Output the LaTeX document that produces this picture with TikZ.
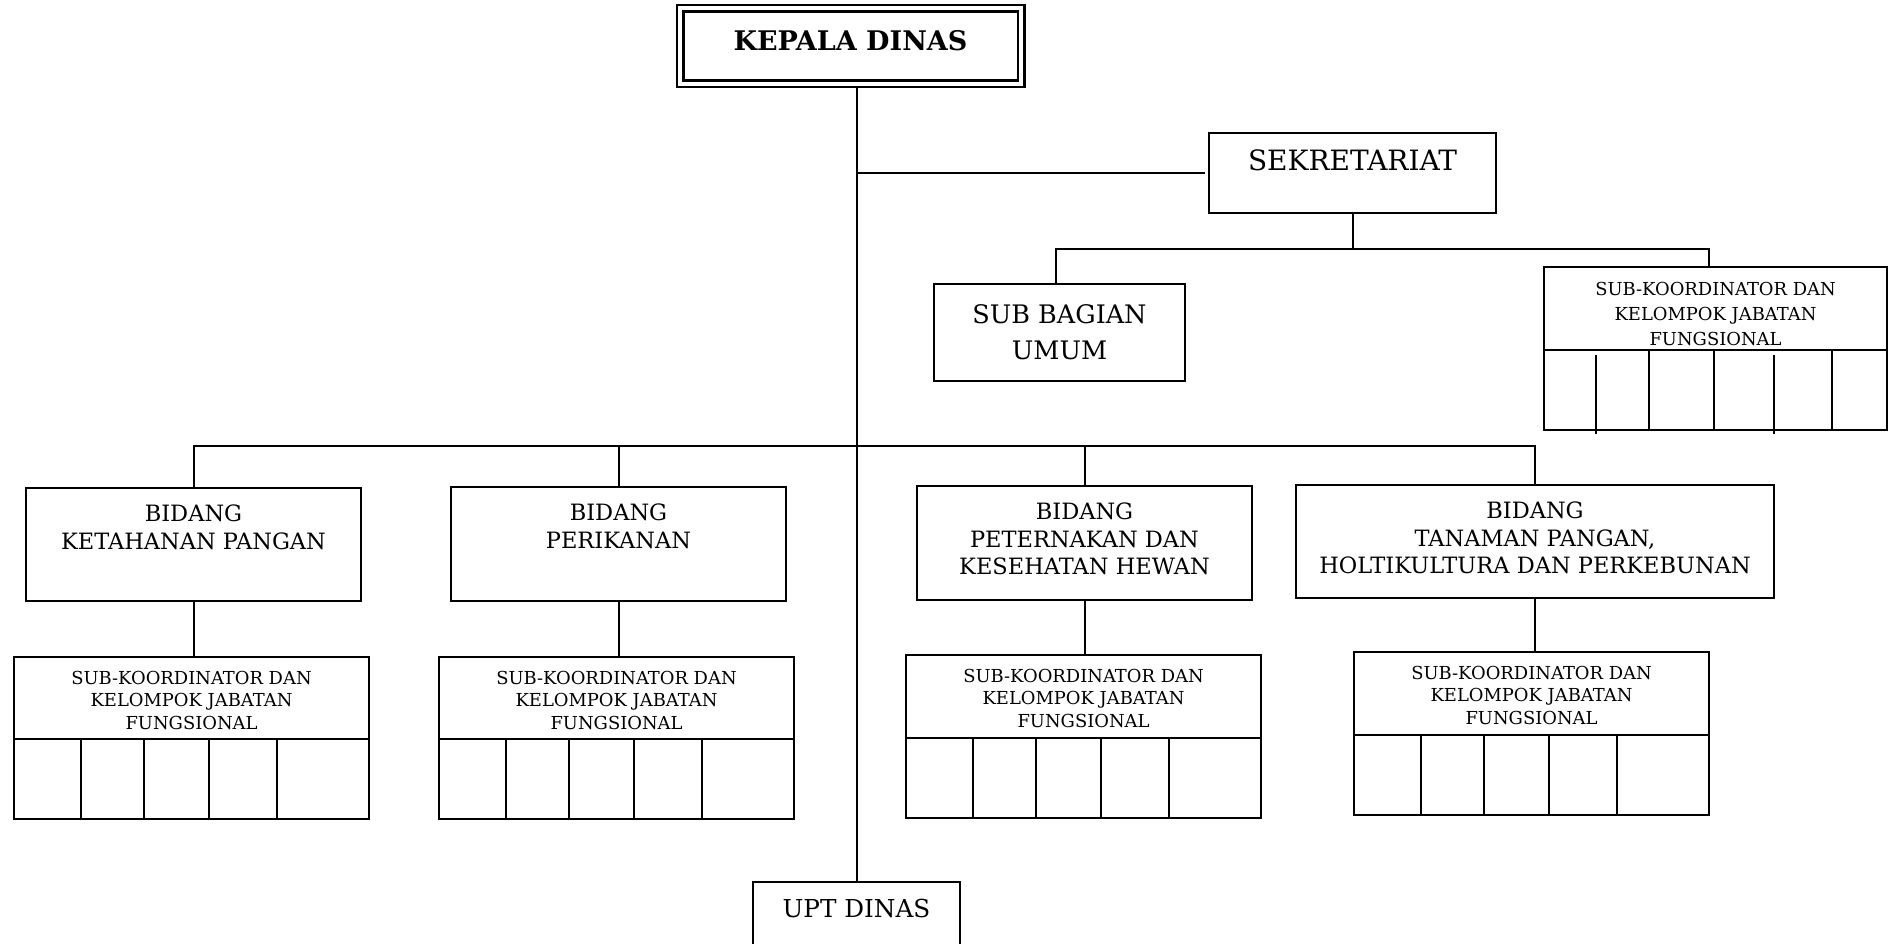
\documentclass[tikz,border=0pt]{standalone}
\usepackage{fontspec}
\setmainfont{DejaVu Serif}
\usetikzlibrary{calc,positioning}
\newcommand\txtbig{\fontsize{22.5}{27.5}\selectfont}
\newcommand\txtsmall{\fontsize{17.9}{22.3}\selectfont}
\tikzset{
  unit/.style={
    draw,
    line width = 2pt,
    shape = rectangle,
    anchor = north west,
    inner sep = 0pt,
    outer sep = 0pt
  },
  kepala/.style={
    draw,
    double,
    double distance = 4pt,
    line width = 2.5pt,
    minimum width = 341pt,
    minimum height = 75.5pt,
    outer sep = 4.5pt
  },
  lbl/.style={
    inner sep = 0pt,
    align = center,
    anchor = north,
    font = \txtbig
  },
  subk/.style={
    unit,
    minimum height = 82pt
  },
  conn/.style={
    line width = 2pt
  },
}
\begin{document}
\begin{tikzpicture}[x=1pt, y=-1pt]
  \useasboundingbox (0,0) rectangle (1890,943);
  \clip (0,0) rectangle (1890,943);
  % top
  \node[kepala, label={[lbl, font=\fontsize{27}{32}\selectfont\bfseries, yshift=-27pt]north:KEPALA DINAS}] (kd) at (850.5,46) {};
  \node[unit, minimum width=287pt, minimum height=80pt, label={[lbl, font=\fontsize{28}{33}\selectfont, yshift=-16.5pt]north:SEKRETARIAT}] (sek) at (1209,133) {};
  \node[unit, minimum width=251pt, minimum height=97pt, align=center, font=\fontsize{25.5}{36}\selectfont] (sbu) at (934,284) {SUB BAGIAN\\UMUM};
  \node[subk, minimum width=343pt, minimum height=83pt, label={[lbl, font=\fontsize{17.9}{25}\selectfont, yshift=-15.5pt]north:SUB-KOORDINATOR DAN\\KELOMPOK JABATAN\\FUNGSIONAL}] (sks) at (1544,267) {};
  % bidang
  \node[unit, minimum width=335pt, minimum height=113pt, label={[lbl, yshift=-17pt]north:BIDANG\\KETAHANAN PANGAN}] (bkp) at (26,488) {};
  \node[unit, minimum width=335pt, minimum height=114pt, label={[lbl, yshift=-17pt]north:BIDANG\\PERIKANAN}] (bpr) at (451,487) {};
  \node[unit, minimum width=335pt, minimum height=114pt, label={[lbl, yshift=-17pt]north:BIDANG\\PETERNAKAN DAN\\KESEHATAN HEWAN}] (bpt) at (917,486) {};
  \node[unit, minimum width=478pt, minimum height=113pt, label={[lbl, yshift=-17pt]north:BIDANG\\TANAMAN PANGAN,\\HOLTIKULTURA DAN PERKEBUNAN}] (btp) at (1296,485) {};
  % sub-koordinator
  \node[subk, minimum width=355pt, label={[lbl, font=\txtsmall, yshift=-14pt]north:SUB-KOORDINATOR DAN\\KELOMPOK JABATAN\\FUNGSIONAL}] (skp) at (14,657) {};
  \node[subk, minimum width=355pt, label={[lbl, font=\txtsmall, yshift=-14pt]north:SUB-KOORDINATOR DAN\\KELOMPOK JABATAN\\FUNGSIONAL}] (spr) at (439,657) {};
  \node[subk, minimum width=355pt, minimum height=83pt, label={[lbl, font=\txtsmall, yshift=-14pt]north:SUB-KOORDINATOR DAN\\KELOMPOK JABATAN\\FUNGSIONAL}] (spt) at (906,655) {};
  \node[subk, minimum width=355pt, minimum height=83pt, label={[lbl, font=\txtsmall, yshift=-14pt]north:SUB-KOORDINATOR DAN\\KELOMPOK JABATAN\\FUNGSIONAL}] (stp) at (1354,652) {};
  \node[unit, minimum width=207pt, minimum height=80pt, label={[lbl, font=\fontsize{24.7}{30}\selectfont, yshift=-17pt]north:UPT DINAS}] (upt) at (753,882) {};
  % cells
  \foreach \s in {skp,spr,spt,stp}{
    \draw[conn] (\s.south west) rectangle ([yshift=-80pt]\s.south east);
    \foreach \dx in {67,130,195,263}
      \draw[conn] ([xshift=\dx]\s.south west) -- ++(0,80);
  }
  \draw[conn] (sks.south west) rectangle ([yshift=-80pt]sks.south east);
  \foreach \dx in {105,170,288}
    \draw[conn] ([xshift=\dx]sks.south west) -- ++(0,80);
  \foreach \dx in {52,230}
    \draw[conn] ([xshift=\dx]sks.south west) ++(0,5) -- ++(0,79);
  % connectors
  \coordinate (bus) at (857,446);
  \coordinate (sekbus) at (1354,249);
  \draw[conn] (kd.south -| upt.north) -- (upt.north);
  \draw[conn] ([xshift=-4pt]sek.west) -- (sek.west -| upt.north);
  \draw[conn] (sek.south) -- (sek.south |- sekbus);
  \draw[conn] ([xshift=-4pt]sbu.north) |- (sekbus) -| ([xshift=-7pt]sks.north);
  \draw[conn] (bkp.north) |- (bus) -| (btp.north);
  \draw[conn] (bpr.north) -- (bpr.north |- bus);
  \draw[conn] (bpt.north) -- (bpt.north |- bus);
  \foreach \b/\s in {bkp/skp,bpr/spr,bpt/spt,btp/stp}
    \draw[conn] (\b.south) -- (\b.south |- \s.north);
\end{tikzpicture}
\end{document}
